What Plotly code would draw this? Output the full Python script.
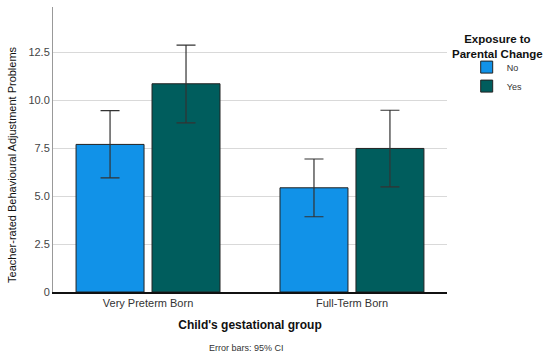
import plotly.graph_objects as go

categories = ["Very Preterm Born", "Full-Term Born"]
groups = ["No", "Yes"]
means = {"No": [7.69, 5.43], "Yes": [10.85, 7.48]}
ci_low = {"No": [5.95, 3.92], "Yes": [8.81, 5.48]}
ci_high = {"No": [9.45, 6.93], "Yes": [12.86, 9.47]}
colors = {"No": "#1192e8", "Yes": "#005d5d"}
y_ticks = [0, 2.5, 5.0, 7.5, 10.0, 12.5]
y_tick_text = ["0", "2.5", "5.0", "7.5", "10.0", "12.5"]

FONT = "Liberation Sans, Arial, sans-serif"

fig = go.Figure()
for g in groups:
    plus = [h - m for h, m in zip(ci_high[g], means[g])]
    minus = [m - l for m, l in zip(means[g], ci_low[g])]
    fig.add_trace(go.Bar(
        name=g, x=categories, y=means[g],
        marker=dict(color=colors[g], line=dict(color="#222222", width=1)),
        error_y=dict(type="data", array=plus, arrayminus=minus, visible=True,
                     color="#333333", thickness=1.2, width=9.5),
    ))

fig.update_layout(
    width=550, height=358,
    margin=dict(l=53, r=103, t=7, b=66, autoexpand=False),
    paper_bgcolor="white", plot_bgcolor="white",
    barmode="group", bargap=0.255, bargroupgap=0.105,
    font=dict(family=FONT, size=11, color="#333333"),
    showlegend=True,
    legend=dict(
        x=1.05, xanchor="left", y=0.84, yanchor="top",
        font=dict(size=9, color="#333333", family=FONT),
        itemwidth=30, tracegroupgap=0, bgcolor="rgba(0,0,0,0)",
    ),
    xaxis=dict(
        type="category", range=[-0.466, 1.466], automargin=False,
        showgrid=False, showline=True, linecolor="#111111", linewidth=2,
        ticks="", tickfont=dict(size=11, color="#333333"),
        title=dict(text="<b>Child's gestational group</b>", standoff=12,
                   font=dict(size=12, color="#111111")),
    ),
    yaxis=dict(
        range=[0, 14.85], tickvals=y_ticks, ticktext=y_tick_text, automargin=False,
        showgrid=True, gridcolor="#d9d9d9", gridwidth=1,
        zeroline=False, showline=True, linecolor="#999999", linewidth=1,
        ticks="", tickfont=dict(size=11, color="#444444"),
    ),
    annotations=[
        dict(text="Teacher-rated Behavioural Adjustment Problems", xref="paper", yref="paper",
             x=-0.104, y=0.446, xanchor="center", yanchor="middle", textangle=-90,
             showarrow=False, font=dict(size=11, color="#111111", family=FONT)),
        dict(text="Error bars: 95% CI", xref="paper", yref="paper",
             x=0.49, y=-0.196, xanchor="center", yanchor="middle", showarrow=False,
             font=dict(size=9, color="#333333", family=FONT)),
        dict(text="<b>Exposure to<br>Parental Change</b>", xref="paper", yref="paper",
             x=1.127, y=0.915, xanchor="center", yanchor="top", align="center",
             showarrow=False, font=dict(size=11.5, color="#111111", family=FONT)),
    ],
)

fig.write_html("out.html", config={"displayModeBar": False},
               post_script="document.body.style.margin='0';document.body.style.padding='0';")
